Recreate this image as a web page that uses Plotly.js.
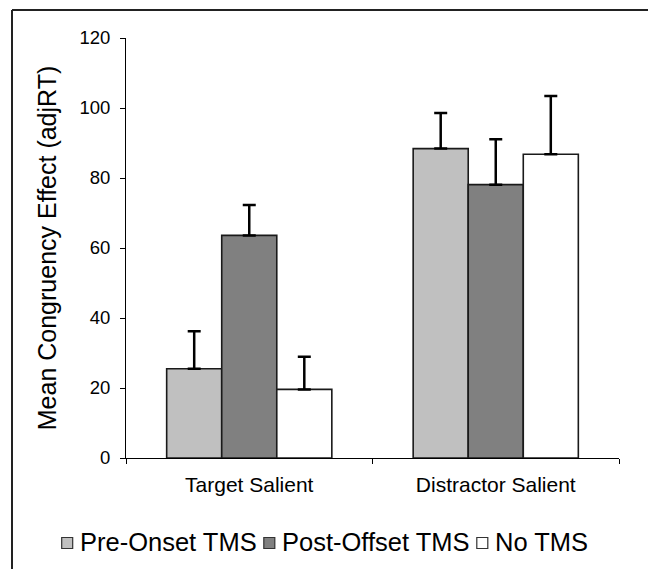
<!DOCTYPE html>
<html>
<head>
<meta charset="utf-8">
<script src="https://cdn.plot.ly/plotly-3.0.1.min.js"></script>
<style>html,body{margin:0;padding:0;background:#fff;}#chart{width:648px;height:569px;}</style>
</head>
<body>
<div id="chart"></div>
<script>
var categories = ["Target Salient", "Distractor Salient"];
var seriesNames = ["Pre-Onset TMS", "Post-Offset TMS", "No TMS"];
var preOnset = [25.5, 88.4];
var preOnsetErr = [10.7, 10.2];
var postOffset = [63.6, 78.1];
var postOffsetErr = [8.7, 13.0];
var noTMS = [19.6, 86.8];
var noTMSErr = [9.3, 16.6];
var yTicks = [0, 20, 40, 60, 80, 100, 120];

var colors = ["#C0C0C0", "#808080", "#FFFFFF"];
var vals = [preOnset, postOffset, noTMS];
var errs = [preOnsetErr, postOffsetErr, noTMSErr];
var fontFamily = "Liberation Sans, Arial, sans-serif";

var W = 648, H = 569;
var M = { l: 126, r: 29, t: 38, b: 111 };
var plotW = W - M.l - M.r, plotH = H - M.t - M.b;
function px2paperX(px) { return (px - M.l) / plotW; }
function px2paperY(py) { return (H - M.b - py) / plotH; }

var data = vals.map(function (v, i) {
  return {
    type: "bar",
    name: seriesNames[i],
    x: categories,
    y: v,
    showlegend: false,
    marker: { color: colors[i], line: { color: "#1a1a1a", width: 1.6 } },
    error_y: {
      type: "data", symmetric: false, array: errs[i],
      arrayminus: v.map(function () { return 0; }),
      color: "#000", thickness: 2.5, width: 6.5
    }
  };
});

// Legend built from the series names and colours (laid out with measured text widths)
var legendFontSize = 25.5;
var ctx = document.createElement("canvas").getContext("2d");
ctx.font = legendFontSize + "px 'Liberation Sans', Arial, sans-serif";
var sq = 11, symGap = 5, itemGap = 9;
var widths = seriesNames.map(function (n) { return ctx.measureText(n).width; });
var total = widths.reduce(function (a, w) { return a + sq + symGap + w; }, 0) + itemGap * (seriesNames.length - 1);
var cursor = W / 2 - total / 2;
var legendY = 542;
var shapes = [
  { type: "line", xref: "paper", yref: "paper", x0: px2paperX(12), x1: px2paperX(12), y0: px2paperY(10), y1: px2paperY(575), line: { color: "#222", width: 2 } },
  { type: "line", xref: "paper", yref: "paper", x0: px2paperX(12), x1: px2paperX(660), y0: px2paperY(10), y1: px2paperY(10), line: { color: "#222", width: 2 } }
];
var annotations = [];
seriesNames.forEach(function (n, i) {
  shapes.push({
    type: "rect", xref: "paper", yref: "paper",
    x0: px2paperX(cursor), x1: px2paperX(cursor + sq),
    y0: px2paperY(legendY - sq / 2 + 1), y1: px2paperY(legendY + sq / 2 + 1),
    fillcolor: colors[i], line: { color: "#333", width: 1.2 }
  });
  cursor += sq + symGap;
  annotations.push({
    xref: "paper", yref: "paper", x: px2paperX(cursor), y: px2paperY(legendY),
    xanchor: "left", yanchor: "middle", showarrow: false, text: n,
    font: { family: fontFamily, size: legendFontSize, color: "#000" }
  });
  cursor += widths[i] + itemGap;
});

var layout = {
  width: W, height: H,
  margin: { l: M.l, r: M.r, t: M.t, b: M.b, pad: 0 },
  paper_bgcolor: "#fff", plot_bgcolor: "#fff",
  font: { family: fontFamily, color: "#000" },
  barmode: "group", bargap: 0.33, bargroupgap: 0,
  showlegend: false,
  xaxis: {
    type: "category", showline: true, linecolor: "#000", linewidth: 1,
    ticks: "outside", ticklen: 5, tickcolor: "#000", tickson: "boundaries",
    tickfont: { family: fontFamily, size: 21, color: "#000" },
    ticklabelstandoff: 8, showgrid: false, zeroline: false, fixedrange: true
  },
  yaxis: {
    range: [0, 120], tickmode: "array", tickvals: yTicks,
    showline: true, linecolor: "#000", linewidth: 1,
    ticks: "outside", ticklen: 5, tickcolor: "#000",
    tickfont: { family: fontFamily, size: 18.5, color: "#000" },
    ticklabelstandoff: 6, showgrid: false, zeroline: false,
    title: { text: "Mean Congruency Effect (adjRT)", font: { family: fontFamily, size: 25, color: "#000" }, standoff: 15 }
  },
  shapes: shapes,
  annotations: annotations
};

Plotly.newPlot("chart", data, layout, { displayModeBar: false, staticPlot: true });
</script>
</body>
</html>
